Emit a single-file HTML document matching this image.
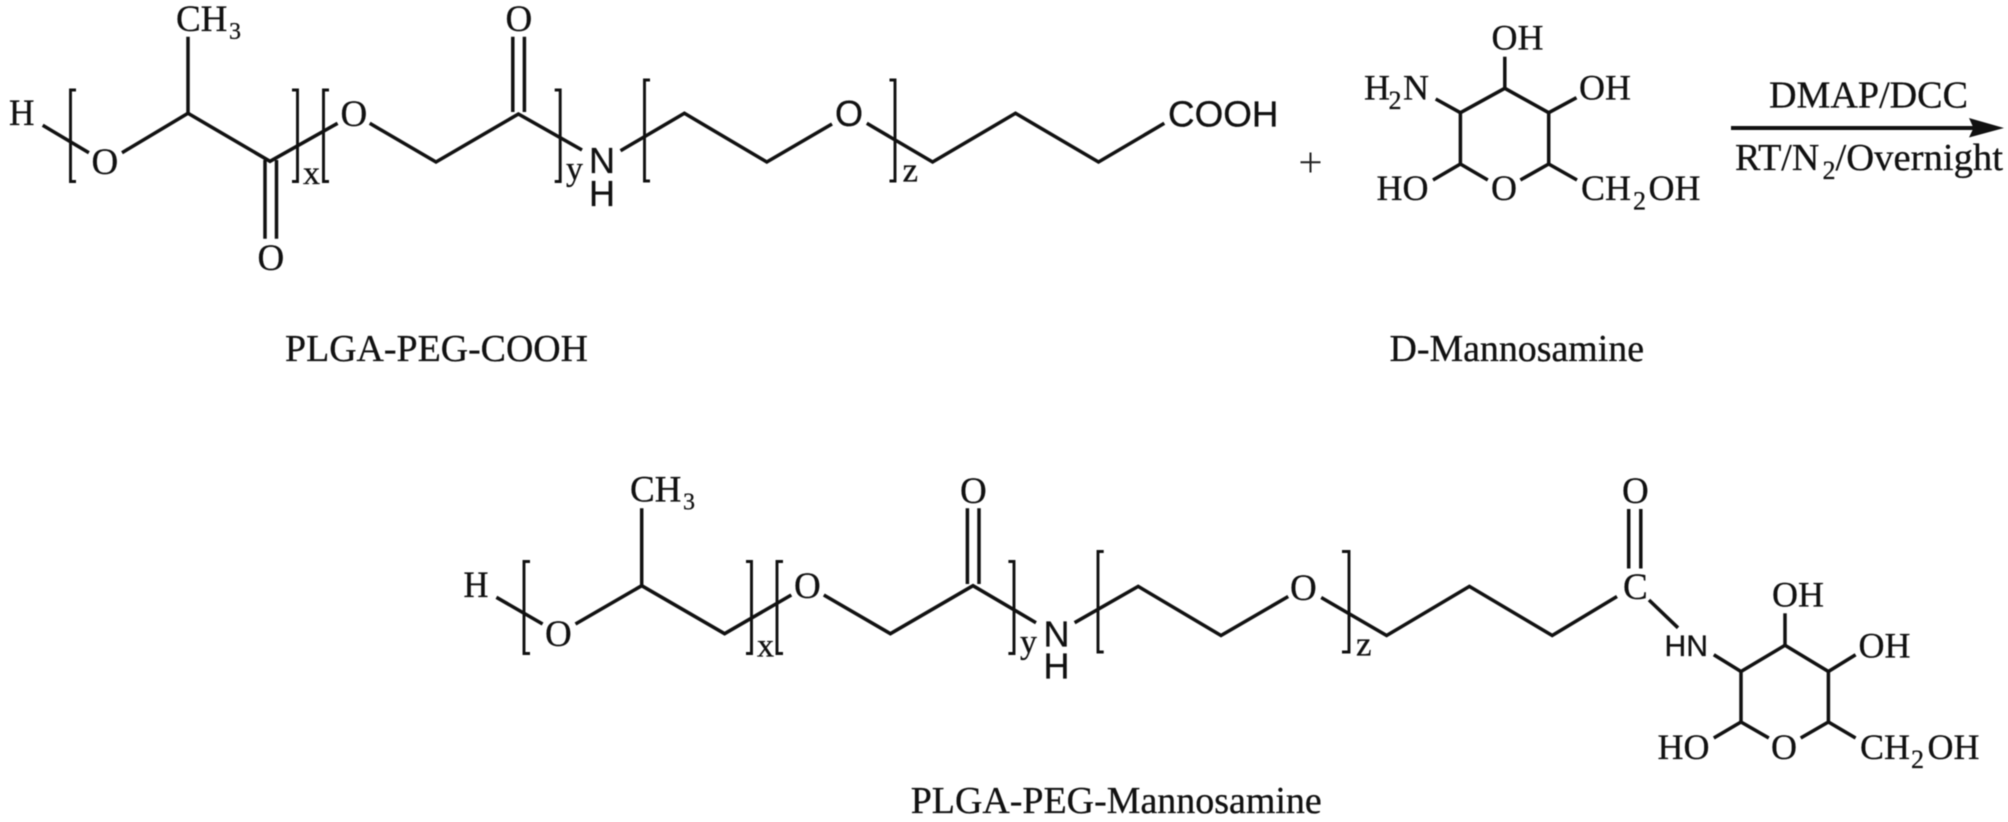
<!DOCTYPE html>
<html><head><meta charset="utf-8"><style>
html,body{margin:0;padding:0;background:#fff}
svg{display:block;filter:blur(.45px)}
.s{font-family:"Liberation Serif",serif;fill:#111;stroke:#111;stroke-width:.3}
.a{font-family:"Liberation Sans",sans-serif;fill:#111;stroke:#111;stroke-width:.3}
.b{fill:none;stroke:#111;stroke-width:3.5;stroke-linejoin:miter;stroke-linecap:butt}
.k{fill:none;stroke:#111;stroke-width:2.9}
</style></head><body>
<svg width="2008" height="822" viewBox="0 0 2008 822" xmlns="http://www.w3.org/2000/svg">
<rect width="2008" height="822" fill="#fff"/>

<!-- Top-left chain -->
<g class="b">
<path d="M42.7 125.3L88.9 152.7"/>
<path d="M122 152.7L188 113.3L270 161.3L337.6 123.3"/>
<path d="M188 36.7V113.3"/>
<path d="M265 160V238.7M276.5 160V238.7"/>
<path d="M369.7 123.3L436 162L518.4 114L582 150"/>
<path d="M512.8 36.7V112M524.4 36.7V112"/>
<path d="M620.5 150.7L684.4 113.3L766.8 162L832 124"/>
<path d="M866.8 123.3L932.6 162L1015.5 113.3L1098.5 162L1164.3 123.3"/>
</g>
<g class="k">
<path d="M76 90H70.5V181.5H76"/>
<path d="M292 90H297.5V181.5H292"/>
<path d="M329 90H323.5V181.5H329"/>
<path d="M554.7 90H560.2V181.5H554.7"/>
<path d="M650 80H644.5V181H650"/>
<path d="M889.5 80H895V181H889.5"/>
</g>
<g class="s" font-size="37">
<text x="9" y="125" textLength="25.5" lengthAdjust="spacingAndGlyphs">H</text>
<text x="91.5" y="174">O</text>
<text x="176" y="31">CH</text>
<text x="229" y="39" font-size="24">3</text>
<text x="257.5" y="270">O</text>
<text x="340.5" y="126">O</text>
<text x="505.5" y="31">O</text>
<text x="303" y="184" font-size="34">x</text>
<text x="566" y="180" font-size="34">y</text>
<text x="902.5" y="181.5" font-size="35">z</text>
</g>
<g class="a" font-size="36">
<text x="589" y="173">N</text>
<text x="589" y="206">H</text>
<text x="835" y="126">O</text>
<text x="1168" y="126.7" textLength="110.5" lengthAdjust="spacingAndGlyphs">COOH</text>
</g>
<path d="M1300.5 162.3H1320.5M1310.5 152.5V172.5" fill="none" stroke="#222" stroke-width="2"/>

<!-- Mannosamine (top) -->
<g class="b">
<path d="M1504.8 56.7V88.3"/>
<path d="M1487.8 180L1460.4 164V112.7L1504.8 88.3L1548.7 112.7V164L1520.4 180"/>
<path d="M1435.7 99L1460.4 112.7"/>
<path d="M1548.7 112.7L1576.5 97.7"/>
<path d="M1460.4 164L1433 180"/>
<path d="M1548.7 164L1577 180"/>
</g>
<g class="s" font-size="36">
<text x="1491.5" y="49.5">OH</text>
<text x="1364" y="99.5">H</text>
<text x="1388.5" y="109" font-size="26">2</text>
<text x="1403" y="99.5">N</text>
<text x="1579" y="99.5">OH</text>
<text x="1376.5" y="200">HO</text>
<text x="1491" y="200">O</text>
<text x="1581" y="200">CH</text>
<text x="1633" y="209.5" font-size="26">2</text>
<text x="1648.5" y="200">OH</text>
</g>
<text class="s" x="1769" y="107.3" font-size="38" textLength="199" lengthAdjust="spacingAndGlyphs">DMAP/DCC</text>
<path d="M1731 126H1974V130H1731Z" fill="#111"/>
<path d="M1969 118L2004 128L1969 137.5L1973.5 128Z" fill="#111"/>
<g class="s" font-size="38">
<text x="1735" y="170">RT/N</text>
<text x="1822.5" y="179" font-size="26">2</text>
<text x="1835.5" y="170" textLength="167.5" lengthAdjust="spacingAndGlyphs">/Overnight</text>
</g>
<text class="s" x="285" y="361" font-size="38" textLength="303" lengthAdjust="spacingAndGlyphs">PLGA-PEG-COOH</text>
<text class="s" x="1389.5" y="361" font-size="38" textLength="254.5" lengthAdjust="spacingAndGlyphs">D-Mannosamine</text>

<!-- Bottom chain -->
<g class="b">
<path d="M496.4 597.3L542.6 624"/>
<path d="M575.5 624L641.7 585.7L724.6 633.7L791.3 595"/>
<path d="M641.7 508.3V585.7"/>
<path d="M823.8 595L890.4 633.7L973 585.7L1036 622.7"/>
<path d="M967.4 508.3V584M979 508.3V584"/>
<path d="M1074.6 622.7L1138.2 586.4L1221 635.5L1288.2 596.5"/>
<path d="M1321.2 597.5L1386.6 635.5L1469.4 586.4L1552.2 635.5L1617 596.5"/>
<path d="M1628.7 509V568.5M1640.8 509V568.5"/>
<path d="M1649 600L1678 627.8"/>
</g>
<g class="k">
<path d="M530 561.5H524V653.5H530"/>
<path d="M746 561.5H751.5V653.5H746"/>
<path d="M783 561.5H777V653.5H783"/>
<path d="M1008.4 561.5H1014V653.5H1008.4"/>
<path d="M1103.7 551.5H1098V652H1103.7"/>
<path d="M1342 551.5H1349V652H1342"/>
</g>
<g class="s" font-size="37">
<text x="463.5" y="597" textLength="25" lengthAdjust="spacingAndGlyphs">H</text>
<text x="545" y="646">O</text>
<text x="630" y="501.7">CH</text>
<text x="683" y="509.7" font-size="24">3</text>
<text x="794" y="598">O</text>
<text x="960" y="503">O</text>
<text x="1290" y="600">O</text>
<text x="1622" y="503">O</text>
<text x="1623" y="599">C</text>
<text x="757" y="656.7" font-size="34">x</text>
<text x="1020" y="653" font-size="34">y</text>
<text x="1356" y="655.4" font-size="35">z</text>
</g>
<g class="a" font-size="36">
<text x="1043.5" y="646.7">N</text>
<text x="1043.5" y="678.3">H</text>
</g>
<text class="a" x="1664.5" y="656" font-size="30" textLength="43.5" lengthAdjust="spacingAndGlyphs">HN</text>

<!-- Mannosamine (bottom) -->
<g class="b">
<path d="M1785 613.3V645.3"/>
<path d="M1768.8 738L1741 722V671.5L1785 645.3L1828.4 671.5V722L1800.7 738"/>
<path d="M1713.8 654.7L1741 671.5"/>
<path d="M1828.4 671.5L1855.6 654.7"/>
<path d="M1741 722L1713.8 738"/>
<path d="M1828.4 722L1855.6 738"/>
</g>
<g class="s" font-size="36">
<text x="1772" y="606.6">OH</text>
<text x="1858.5" y="657.7">OH</text>
<text x="1657.5" y="759">HO</text>
<text x="1771" y="759">O</text>
<text x="1860" y="759">CH</text>
<text x="1911" y="768" font-size="26">2</text>
<text x="1927.5" y="759">OH</text>
</g>
<text class="s" x="910.7" y="813" font-size="38" textLength="411" lengthAdjust="spacingAndGlyphs">PLGA-PEG-Mannosamine</text>
</svg>
</body></html>
